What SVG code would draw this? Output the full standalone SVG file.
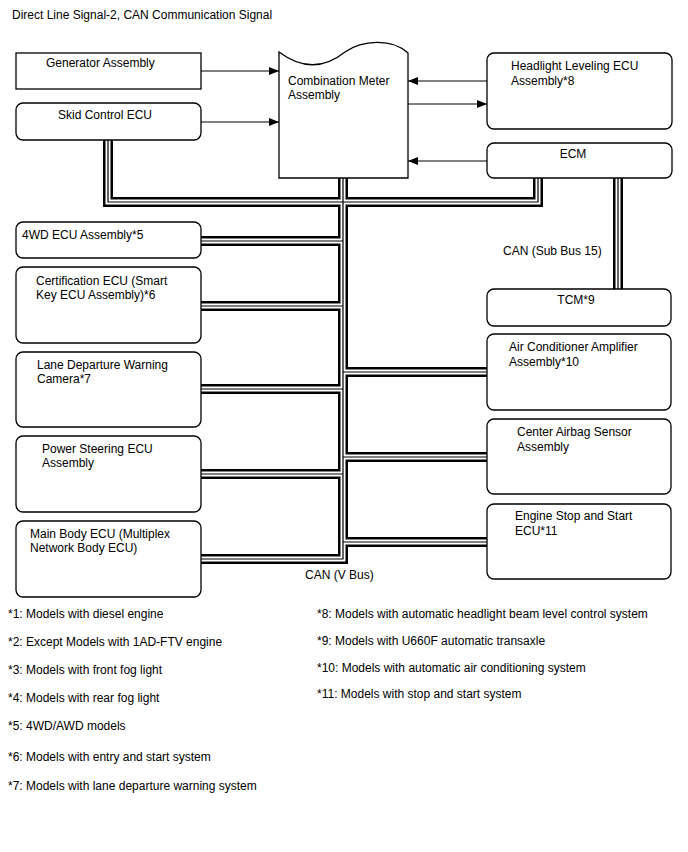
<svg xmlns="http://www.w3.org/2000/svg" xmlns:xlink="http://www.w3.org/1999/xlink" width="688" height="852" viewBox="0 0 688 852">
<style>
text{font-family:"Liberation Sans",Arial,sans-serif;font-size:12px;fill:#000}
.box{fill:#fff;stroke:#000;stroke-width:1.3}
.arr{fill:none;stroke:#000;stroke-width:1;marker-end:url(#ah)}
.b1{fill:none;stroke:#000;stroke-width:10}
.b2{fill:none;stroke:#fff;stroke-width:5}
.b3{fill:none;stroke:#000;stroke-width:1.2}
.mid{text-anchor:middle}
</style>
<defs>
<marker id="ah" markerUnits="userSpaceOnUse" markerWidth="11" markerHeight="8" refX="10" refY="4" orient="auto">
<path d="M0,0 L10,4 L0,8 Z" fill="#000"/>
</marker>
<g id="bus">
<path d="M108,140 V202 H343"/>
<path d="M343,178 V559 H201"/>
<path d="M538,178 V202 H343"/>
<path d="M618,178 V289"/>
<path d="M201,241 H343"/>
<path d="M201,306 H343"/>
<path d="M201,389 H343"/>
<path d="M201,474 H343"/>
<path d="M343,372 H487"/>
<path d="M343,457 H487"/>
<path d="M343,542 H487"/>
</g>
</defs>
<rect width="688" height="852" fill="#fff"/>
<text x="12" y="19">Direct Line Signal-2, CAN Communication Signal</text>

<g id="connectors">
<use xlink:href="#bus" class="b1"/>
<use xlink:href="#bus" class="b2"/>
<use xlink:href="#bus" class="b3"/>
<path class="arr" d="M201,71 H279"/>
<path class="arr" d="M201,122 H279"/>
<path class="arr" d="M487,81 H408"/>
<path class="arr" d="M408,104 H487"/>
<path class="arr" d="M487,161 H408"/>
<text x="503" y="255">CAN (Sub Bus 15)</text>
<text x="305" y="579">CAN (V Bus)</text>
</g>

<g id="generator">
<rect class="box" x="16" y="53" width="185" height="36"/>
<text x="46" y="67">Generator Assembly</text>
</g>
<g id="skid">
<rect class="box" x="16" y="103" width="185" height="37" rx="7"/>
<text x="58" y="119">Skid Control ECU</text>
</g>
<g id="meter">
<path class="box" d="M279,52 C303,70 325,68 345,52 C362,40 392,38 408,53 V178 H279 Z"/>
<text x="288" y="85">Combination Meter</text>
<text x="288" y="99">Assembly</text>
</g>
<g id="headlight">
<rect class="box" x="487" y="53" width="185" height="76" rx="7"/>
<text x="511" y="70">Headlight Leveling ECU</text>
<text x="511" y="85">Assembly*8</text>
</g>
<g id="ecm">
<rect class="box" x="487" y="143" width="185" height="35" rx="7"/>
<text class="mid" x="573" y="158">ECM</text>
</g>
<g id="tcm">
<rect class="box" x="487" y="289" width="184" height="37" rx="7"/>
<text class="mid" x="576" y="304">TCM*9</text>
</g>
<g id="fwd">
<rect class="box" x="16" y="222" width="185" height="36" rx="7"/>
<text x="22" y="239">4WD ECU Assembly*5</text>
</g>
<g id="cert">
<rect class="box" x="16" y="267" width="185" height="76" rx="7"/>
<text x="36" y="285">Certification ECU (Smart</text>
<text x="36" y="299">Key ECU Assembly)*6</text>
</g>
<g id="lane">
<rect class="box" x="16" y="352" width="185" height="75" rx="7"/>
<text x="37" y="369">Lane Departure Warning</text>
<text x="37" y="383">Camera*7</text>
</g>
<g id="ps">
<rect class="box" x="16" y="436" width="185" height="76" rx="7"/>
<text x="42" y="453">Power Steering ECU</text>
<text x="42" y="467">Assembly</text>
</g>
<g id="mainbody">
<rect class="box" x="16" y="521" width="185" height="76" rx="7"/>
<text x="30" y="538">Main Body ECU (Multiplex</text>
<text x="30" y="552">Network Body ECU)</text>
</g>
<g id="ac">
<rect class="box" x="487" y="334" width="184" height="76" rx="7"/>
<text x="509" y="351">Air Conditioner Amplifier</text>
<text x="509" y="366">Assembly*10</text>
</g>
<g id="airbag">
<rect class="box" x="487" y="419" width="184" height="75" rx="7"/>
<text x="517" y="436">Center Airbag Sensor</text>
<text x="517" y="451">Assembly</text>
</g>
<g id="ess">
<rect class="box" x="487" y="504" width="184" height="75" rx="7"/>
<text x="515" y="520">Engine Stop and Start</text>
<text x="515" y="535">ECU*11</text>
</g>

<g id="legend">
<text x="8" y="618">*1: Models with diesel engine</text>
<text x="8" y="646">*2: Except Models with 1AD-FTV engine</text>
<text x="8" y="674">*3: Models with front fog light</text>
<text x="8" y="702">*4: Models with rear fog light</text>
<text x="8" y="730">*5: 4WD/AWD models</text>
<text x="8" y="761">*6: Models with entry and start system</text>
<text x="8" y="790">*7: Models with lane departure warning system</text>
<text x="317" y="618">*8: Models with automatic headlight beam level control system</text>
<text x="317" y="645">*9: Models with U660F automatic transaxle</text>
<text x="317" y="672">*10: Models with automatic air conditioning system</text>
<text x="317" y="698">*11: Models with stop and start system</text>
</g>
</svg>
